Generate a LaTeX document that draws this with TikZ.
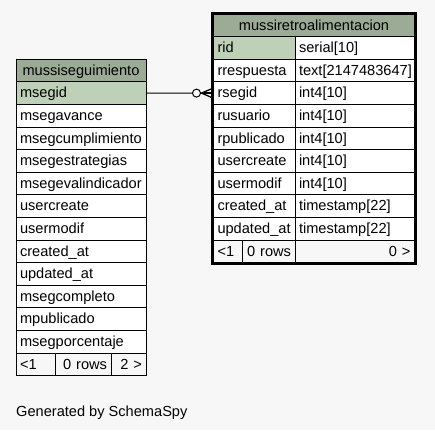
\documentclass[tikz,border=0pt]{standalone}
\usepackage{fontspec}
\setmainfont{Liberation Sans}
\usetikzlibrary{calc}
\definecolor{hdr}{HTML}{9BAB96}
\definecolor{pkc}{HTML}{BED1B8}
\definecolor{bgc}{HTML}{F7F7F7}
\begin{document}
\begin{tikzpicture}[x=1bp,y=-1bp,
  every node/.style={font=\fontsize{14.6bp}{17bp}\selectfont},
  cell/.style={draw=black, line width=1bp, anchor=north west, outer sep=0pt,
    minimum height=22.6bp, inner ysep=0pt, inner xsep=4bp,
    text height=12bp, text depth=2.6bp, fill=white},
  lcell/.style={cell, text width=#1, align=left},
  rcell/.style={cell, text width=#1, align=right, fill=bgc},
  fcell/.style={cell, text width=#1, align=left, fill=bgc},
  hcell/.style={cell, text width=#1, align=center, fill=hdr},
  link/.style={line width=1bp, draw=black}
]
\useasboundingbox (0,0) rectangle (435,430);
\fill[bgc] (0,0) rectangle (435,430);

% left table
\node[hcell=122bp] (lh) at (16,59.3) {mussiseguimiento};
\node[lcell=122bp, fill=pkc] (l1) at (16,81.9) {msegid};
\foreach \t [count=\i from 2] in {msegavance,msegcumplimiento,msegestrategias,msegevalindicador,usercreate,usermodif,created\_at,updated\_at,msegcompleto,mpublicado,msegporcentaje}
  \node[lcell=122bp] (l\i) at (16,{59.3+22.6*\i}) {\t};
\node[fcell=31bp] (lf1) at (16,353.1) {<1};
\node[rcell=48bp] (lf2) at (55,353.1) {0~rows};
\node[rcell=27bp] (lf3) at (111,353.1) {2~>};

% right table
\node[hcell=193bp] (rh) at (213.5,14) {mussiretroalimentacion};
\foreach \a/\b [count=\i] in {rid/serial[10],rrespuesta/text[2147483647],rsegid/int4[10],rusuario/int4[10],rpublicado/int4[10],usercreate/int4[10],usermodif/int4[10],created\_at/timestamp[22],updated\_at/timestamp[22]}{
  \node[lcell=73.5bp] (ra\i) at (213.5,{14+22.6*\i}) {\a};
  \node[lcell=111.5bp] (rb\i) at (295,{14+22.6*\i}) {\b};
}
\node[lcell=73.5bp, fill=pkc] at (ra1.north west) {rid};
\node[fcell=21.2bp] (rf1) at (213.5,240) {<1};
\node[rcell=44.3bp] (rf2) at (242.7,240) {0~rows};
\node[rcell=111.5bp] (rf3) at (295,240) {0~>};
\draw[line width=2.4bp] ($(rh.north west)+(-1.2,-1.2)$) rectangle ($(rf3.south east)+(1.2,1.2)$);

% connector
\coordinate (cc) at ($(ra3.west)+(-17,0)$);
\coordinate (cf) at ($(ra3.west)+(-12,0)$);
\draw[link] (l1.east) -- (ra3.west);
\draw[link, fill=white] (cc) circle (4bp);
\draw[line width=1.3bp] (cf) -- ($(ra3.west)+(-1.5,-4.5)$);
\draw[line width=1.3bp] (cf) -- ($(ra3.west)+(-1.5,0)$);
\draw[line width=1.3bp] (cf) -- ($(ra3.west)+(-1.5,4.5)$);

\node[anchor=base west, inner sep=0pt] (gen) at (16,416.5) {Generated by SchemaSpy};
\end{tikzpicture}
\end{document}
